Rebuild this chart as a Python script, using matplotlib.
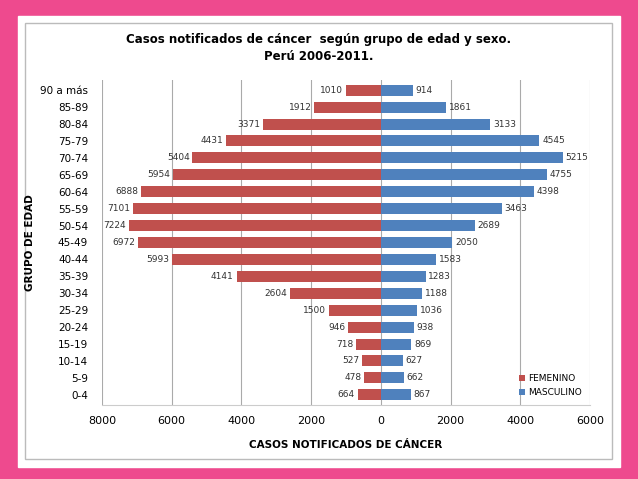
import matplotlib.pyplot as plt
from matplotlib.patches import Rectangle

groups = ["0-4", "5-9", "10-14", "15-19", "20-24", "25-29", "30-34", "35-39",
          "40-44", "45-49", "50-54", "55-59", "60-64", "65-69", "70-74",
          "75-79", "80-84", "85-89", "90 a más"]
femenino = [664, 478, 527, 718, 946, 1500, 2604, 4141, 5993, 6972, 7224,
            7101, 6888, 5954, 5404, 4431, 3371, 1912, 1010]
masculino = [867, 662, 627, 869, 938, 1036, 1188, 1283, 1583, 2050, 2689,
             3463, 4398, 4755, 5215, 4545, 3133, 1861, 914]
xticks = [-8000, -6000, -4000, -2000, 0, 2000, 4000, 6000]

fig = plt.figure(figsize=(6.38, 4.79), dpi=100, facecolor="#ee4a8e")
# white slide panel and chart frame
fig.patches.append(Rectangle((18 / 638, 12 / 479), 602 / 638, 451 / 479,
                             transform=fig.transFigure, color="white", zorder=-2))
fig.patches.append(Rectangle((25 / 638, 20 / 479), 587 / 638, 436 / 479,
                             transform=fig.transFigure, fill=False,
                             ec="#bbbbbb", lw=1, zorder=-1))

ax = fig.add_axes([102 / 638, 74 / 479, 488 / 638, 325 / 479])
ax.set_facecolor("none")
y = range(len(groups))
ax.barh(y, [-v for v in femenino], height=0.65, color="#c0504d", label="FEMENINO", zorder=2)
ax.barh(y, masculino, height=0.65, color="#4f81bd", label="MASCULINO", zorder=2)

for i, (f, m) in enumerate(zip(femenino, masculino)):
    ax.text(-f - 80, i, str(f), ha="right", va="center", fontsize=6.5, color="#333333")
    ax.text(m + 80, i, str(m), ha="left", va="center", fontsize=6.5, color="#333333")

ax.set_xlim(-8000, 6000)
ax.set_ylim(-0.6, len(groups) - 0.4)
ax.set_xticks(xticks)
ax.set_xticklabels([str(abs(t)) for t in xticks], fontsize=8)
ax.set_yticks(list(y))
ax.set_yticklabels(groups, fontsize=7.5)
ax.tick_params(axis="y", length=0, pad=10)
ax.tick_params(axis="x", length=0, pad=8)
ax.xaxis.grid(True, color="#aaaaaa", lw=0.8, zorder=0)
ax.set_axisbelow(True)
for s in ["top", "right", "left"]:
    ax.spines[s].set_visible(False)
ax.spines["bottom"].set_color("#cccccc")

ax.set_xlabel("CASOS NOTIFICADOS DE CÁNCER", fontsize=7.5, fontweight="bold", labelpad=10)
ax.set_ylabel("GRUPO DE EDAD", fontsize=7.5, fontweight="bold", labelpad=4)
ax.legend(loc="lower right", frameon=False, fontsize=6.5, handlelength=0.6,
          handleheight=0.6, handletextpad=0.4)

fig.text(0.5, 1 - 40 / 479, "Casos notificados de cáncer  según grupo de edad y sexo.",
         ha="center", va="center", fontsize=8.5, fontweight="bold")
fig.text(0.5, 1 - 57 / 479, "Perú 2006-2011.", ha="center", va="center",
         fontsize=8.5, fontweight="bold")

fig.savefig("out.png", dpi=100, facecolor=fig.get_facecolor())
